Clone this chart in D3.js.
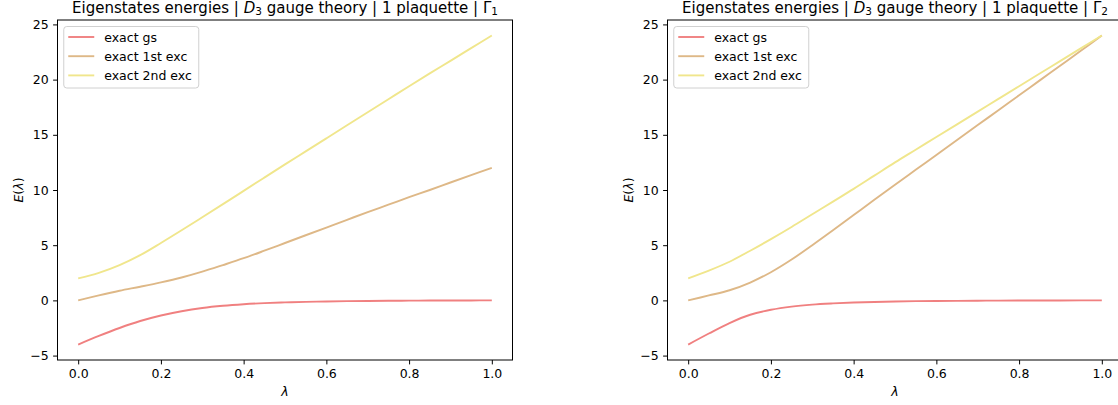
<!DOCTYPE html>
<html>
<head>
<meta charset="utf-8">
<script src="https://cdn.jsdelivr.net/npm/d3@7"></script>
<style>
  html, body { margin: 0; padding: 0; background: #ffffff; overflow: hidden; }
  svg { display: block; font-family: "DejaVu Sans", sans-serif; }
</style>
</head>
<body>
<svg id="chart" width="1118" height="405"></svg>
<script>
// ---------------- data ----------------
const lambdaValues = [0, 0.05, 0.1, 0.15, 0.2, 0.25, 0.3, 0.35, 0.4, 0.45, 0.5,
                      0.55, 0.6, 0.65, 0.7, 0.75, 0.8, 0.85, 0.9, 0.95, 1.0];

// Gamma_1 sector
const g1GroundState = [-4.0, -3.22, -2.5, -1.87, -1.37, -0.98, -0.69, -0.49, -0.35, -0.25, -0.18,
                       -0.13, -0.095, -0.07, -0.05, -0.035, -0.025, -0.015, -0.01, -0.005, 0.0];
const g1FirstExc   = [0.0, 0.45, 0.87, 1.24, 1.63, 2.07, 2.6, 3.2, 3.82, 4.5, 5.2,
                      5.9, 6.6, 7.3, 8.0, 8.67, 9.35, 10.0, 10.68, 11.35, 12.0];
const g1SecondExc  = [2.0, 2.5, 3.2, 4.1, 5.2, 6.35, 7.53, 8.72, 9.92, 11.12, 12.32,
                      13.5, 14.68, 15.86, 17.04, 18.22, 19.4, 20.56, 21.7, 22.85, 24.0];

// Gamma_2 sector
const g2GroundState = [-4.0, -3.0, -2.05, -1.3, -0.85, -0.56, -0.38, -0.27, -0.19, -0.14, -0.1,
                       -0.07, -0.05, -0.04, -0.03, -0.02, -0.015, -0.01, -0.005, 0.0, 0.0];
const g2FirstExc   = [0.0, 0.45, 0.92, 1.62, 2.55, 3.7, 5.0, 6.35, 7.73, 9.11, 10.48,
                      11.83, 13.18, 14.53, 15.88, 17.23, 18.58, 19.93, 21.28, 22.63, 24.0];
const g2SecondExc  = [2.0, 2.7, 3.5, 4.5, 5.55, 6.65, 7.8, 8.95, 10.1, 11.3, 12.5,
                      13.65, 14.8, 15.95, 17.1, 18.25, 19.4, 20.55, 21.7, 22.85, 24.0];

const seriesNames = ["exact gs", "exact 1st exc", "exact 2nd exc"];
const seriesColors = ["#F08080", "#DEB887", "#F0E68C"];
const xTicks = [0, 0.2, 0.4, 0.6, 0.8, 1.0];
const yTicks = [-5, 0, 5, 10, 15, 20, 25];
const panelSubscripts = ["1", "2"];

// ---------------- drawing ----------------
const svg = d3.select("#chart");
const FS = 12.5;

const panels = [
  { left: 57.5, series: [g1GroundState, g1FirstExc, g1SecondExc], sub: panelSubscripts[0] },
  { left: 667.5, series: [g2GroundState, g2FirstExc, g2SecondExc], sub: panelSubscripts[1] }
];
const axW = 455, axTop = 20, axBottom = 360;

panels.forEach(p => {
  const x = d3.scaleLinear().domain([-0.05, 1.05]).range([p.left, p.left + axW]);
  const y = d3.scaleLinear().domain([-5.4, 25.4]).range([axBottom, axTop]);
  const g = svg.append("g");

  // lines
  const line = d3.line()
    .x((d, i) => x(lambdaValues[i]))
    .y(d => y(d))
    .curve(d3.curveCatmullRom.alpha(0.5));
  p.series.forEach((s, k) => {
    g.append("path")
      .attr("d", line(s))
      .attr("fill", "none")
      .attr("stroke", seriesColors[k])
      .attr("stroke-width", 1.9)
      .attr("stroke-linejoin", "round")
      .attr("stroke-linecap", "butt");
  });

  // axes
  const xAxis = d3.axisBottom(x).tickValues(xTicks).tickFormat(d3.format(".1f"))
    .tickSizeInner(4.4).tickSizeOuter(0).tickPadding(4.4);
  const yAxis = d3.axisLeft(y).tickValues(yTicks)
    .tickFormat(d => d < 0 ? "\u2212" + Math.abs(d) : String(d))
    .tickSizeInner(4.4).tickSizeOuter(0).tickPadding(4.4);

  const gx = g.append("g").attr("transform", `translate(0,${axBottom})`).call(xAxis);
  const gy = g.append("g").attr("transform", `translate(${p.left},0)`).call(yAxis);
  [gx, gy].forEach(a => {
    a.select(".domain").remove();
    a.selectAll("line").attr("stroke", "#000").attr("stroke-width", 1);
    a.selectAll("text").attr("fill", "#000").style("font-size", FS + "px")
      .style("font-family", "DejaVu Sans");
  });

  // spines
  g.append("rect")
    .attr("x", p.left).attr("y", axTop)
    .attr("width", axW).attr("height", axBottom - axTop)
    .attr("fill", "none").attr("stroke", "#000").attr("stroke-width", 1);

  // x label
  g.append("text")
    .attr("x", p.left + axW / 2).attr("y", 396)
    .attr("text-anchor", "middle")
    .style("font-size", FS + "px").style("font-style", "italic")
    .text("\u03bb");

  // y label
  const yl = g.append("text")
    .attr("transform", `translate(${p.left - 40},${(axTop + axBottom) / 2}) rotate(-90)`)
    .attr("text-anchor", "middle")
    .attr("dominant-baseline", "central")
    .style("font-size", FS + "px");
  yl.append("tspan").style("font-style", "italic").text("E");
  yl.append("tspan").text("(");
  yl.append("tspan").style("font-style", "italic").text("\u03bb");
  yl.append("tspan").text(")");

  // title
  const t = g.append("text")
    .attr("x", p.left + axW / 2).attr("y", 12.5)
    .attr("text-anchor", "middle")
    .style("font-size", "15px");
  t.append("tspan").text("Eigenstates energies | ");
  t.append("tspan").style("font-style", "italic").text("D");
  t.append("tspan").attr("dy", 2.5).style("font-size", "10.5px").text("3");
  t.append("tspan").attr("dy", -2.5).text(" gauge theory | 1 plaquette | \u0393");
  t.append("tspan").attr("dy", 2.5).style("font-size", "10.5px").text(p.sub);

  // legend
  const lx = p.left + 6.25, ly = axTop + 6.5;
  const lg = g.append("g");
  lg.append("rect")
    .attr("x", lx).attr("y", ly).attr("width", 135).attr("height", 61.5)
    .attr("rx", 3).attr("ry", 3)
    .attr("fill", "#fff").attr("fill-opacity", 0.8)
    .attr("stroke", "#d0d0d0").attr("stroke-width", 1);
  seriesNames.forEach((name, k) => {
    const cy = ly + 10.5 + k * 19.2;
    lg.append("line")
      .attr("x1", lx + 4.5).attr("x2", lx + 30.5)
      .attr("y1", cy).attr("y2", cy)
      .attr("stroke", seriesColors[k]).attr("stroke-width", 1.9);
    lg.append("text")
      .attr("x", lx + 40.5).attr("y", cy)
      .attr("dominant-baseline", "central")
      .style("font-size", FS + "px")
      .text(name);
  });
});
</script>
</body>
</html>
